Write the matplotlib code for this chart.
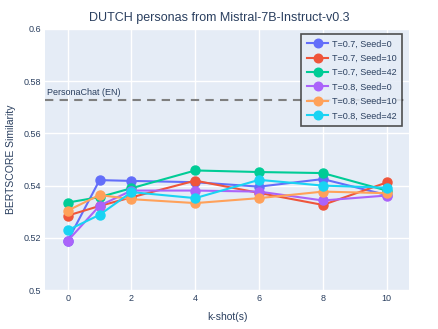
import matplotlib
matplotlib.use("Agg")
import matplotlib.pyplot as plt

# k-shot values and scores
shots = [0, 1, 2, 4, 6, 8, 10]
labels = ["T=0.7, Seed=0", "T=0.7, Seed=10", "T=0.7, Seed=42",
          "T=0.8, Seed=0", "T=0.8, Seed=10", "T=0.8, Seed=42"]
t07_s0 = [0.5188, 0.5421, 0.5418, 0.5413, 0.5396, 0.5425, 0.5364]
t07_s10 = [0.5285, 0.5322, 0.5355, 0.5419, 0.5372, 0.5326, 0.5412]
t07_s42 = [0.5335, 0.5356, 0.5390, 0.5458, 0.5452, 0.5448, 0.5381]
t08_s0 = [0.5188, 0.5323, 0.5381, 0.5381, 0.5377, 0.5343, 0.5362]
t08_s10 = [0.5304, 0.5364, 0.5348, 0.5333, 0.5352, 0.5377, 0.5371]
t08_s42 = [0.5229, 0.5288, 0.5375, 0.5352, 0.5422, 0.5400, 0.5392]
series = [t07_s0, t07_s10, t07_s42, t08_s0, t08_s10, t08_s42]
baseline = 0.5729
baseline_label = "PersonaChat (EN)"

colors = ["#636efa", "#EF553B", "#00cc96", "#ab63fa", "#FFA15A", "#19d3f3"]
txt = "#2a3f5f"

plt.rcParams["font.family"] = ["Liberation Sans", "DejaVu Sans"]

fig = plt.figure(figsize=(4.39, 3.29), dpi=100)
ax = fig.add_axes([0.1025, 0.1185, 0.8292, 0.7934])
ax.set_facecolor("#e5ecf6")
for s in ax.spines.values():
    s.set_visible(False)

ax.set_axisbelow(True)
ax.grid(color="white", linewidth=1.0)

for vals, lab, c in zip(series, labels, colors):
    ax.plot(shots, vals, color=c, linewidth=1.5, marker="o", markersize=6.5,
            label=lab, zorder=3)

ax.axhline(baseline, color="#7f7f7f", linestyle=(0, (4, 3)), linewidth=1.5, zorder=4)
ax.text(0.005, baseline + 0.0012, baseline_label, transform=ax.get_yaxis_transform(),
        fontsize=6.5, color=txt, va="bottom", ha="left")

ax.set_xlim(-0.71, 10.7)
ax.set_ylim(0.5, 0.6)
ax.set_xticks([0, 2, 4, 6, 8, 10])
ax.set_yticks([0.5, 0.52, 0.54, 0.56, 0.58, 0.6])
ax.set_yticklabels(["0.5", "0.52", "0.54", "0.56", "0.58", "0.6"])
ax.tick_params(length=0, labelsize=6.5, labelcolor=txt, pad=3)

ax.set_xlabel("k-shot(s)", fontsize=7.5, color=txt, labelpad=6)
ax.set_ylabel("BERTSCORE Similarity", fontsize=7.5, color=txt, labelpad=5)
fig.suptitle("DUTCH personas from Mistral-7B-Instruct-v0.3", fontsize=9,
             color=txt, y=0.965)

leg = ax.legend(loc="upper right", bbox_to_anchor=(0.981, 0.981), borderaxespad=0,
                fontsize=6.5, frameon=True, fancybox=False, facecolor="#e5ecf6",
                framealpha=0.85, edgecolor="#333333", labelcolor=txt,
                handlelength=2.4, handletextpad=0.4, borderpad=0.6,
                labelspacing=0.6, markerscale=0.95)
leg.get_frame().set_linewidth(1.2)
leg.set_zorder(5)

fig.savefig("out.png", dpi=100)
